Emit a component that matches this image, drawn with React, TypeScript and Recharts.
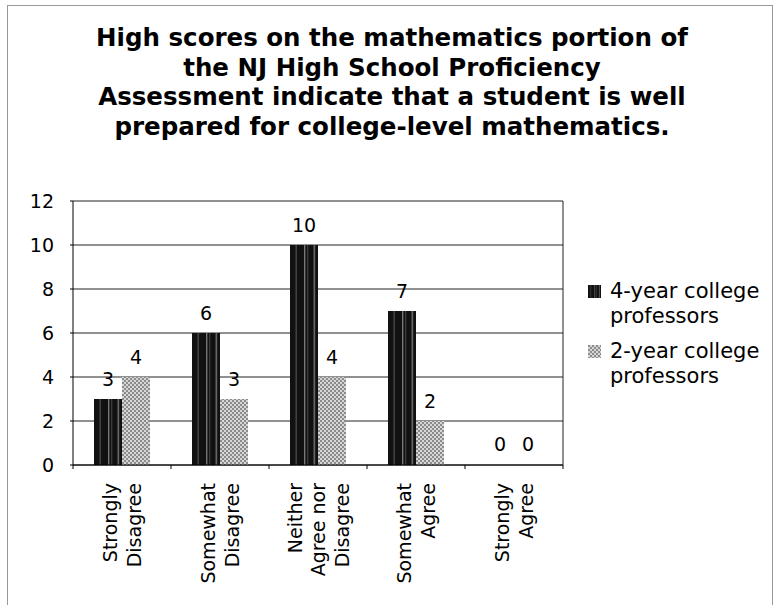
import React from 'react';
import { BarChart, Bar, XAxis, YAxis, CartesianGrid, LabelList, Legend, Cell } from 'recharts';

const FONT = "Verdana, 'DejaVu Sans', sans-serif";

const titleLines = [
  'High scores on the mathematics portion of',
  'the NJ High School Proficiency',
  'Assessment indicate that a student is well',
  'prepared for college-level mathematics.',
];
const categories = [
  'Strongly Disagree',
  'Somewhat Disagree',
  'Neither Agree nor Disagree',
  'Somewhat Agree',
  'Strongly Agree',
];
const categoryLines = [
  ['Strongly', 'Disagree'],
  ['Somewhat', 'Disagree'],
  ['Neither', 'Agree nor', 'Disagree'],
  ['Somewhat', 'Agree'],
  ['Strongly', 'Agree'],
];
const fourYear = [3, 6, 10, 7, 0];
const twoYear = [4, 3, 4, 2, 0];
const yTicks = [0, 2, 4, 6, 8, 10, 12];
const seriesNames = ['4-year college professors', '2-year college professors'];
const legendLines = [
  ['4-year college', 'professors'],
  ['2-year college', 'professors'],
];
const seriesFills = ['url(#pat4)', 'url(#pat2)'];

const data = categories.map((c, i) => ({
  name: c,
  four: fourYear[i],
  two: twoYear[i],
}));

const CatTick = (props: any) => {
  const { x, y, payload, index, visibleTicksCount } = props;
  const lines = categoryLines[index] ?? [String(payload.value)];
  const half = payload && payload.offset ? payload.offset : 49;
  const lh = 23.5;
  const n = lines.length;
  const isLast = index === (visibleTicksCount ?? categories.length) - 1;
  return (
    <g>
      <line x1={x - half} x2={x - half} y1={y} y2={y + 4} stroke="#000" />
      {isLast && <line x1={x + half} x2={x + half} y1={y} y2={y + 4} stroke="#000" />}
      <text
        transform={`translate(${x},${y + 18}) rotate(-90)`}
        textAnchor="end"
        fontFamily={FONT}
        fontSize={19}
        fill="#000"
      >
        {lines.map((l, i) => (
          <tspan key={i} x={0} y={(i - (n - 1) / 2) * lh + 7}>
            {l}
          </tspan>
        ))}
      </text>
    </g>
  );
};

const LegendContent = () => (
  <div style={{ fontFamily: FONT, fontSize: 21, lineHeight: '25px', color: '#000' }}>
    {seriesNames.map((s, i) => (
      <div key={s} style={{ display: 'flex', alignItems: 'flex-start', marginBottom: 10 }}>
        <svg width={13} height={13} style={{ marginTop: 6, marginRight: 9, flex: 'none' }}>
          <rect x={0} y={0} width={13} height={13} fill={seriesFills[i]} />
        </svg>
        <div>
          {legendLines[i].map((l) => (
            <div key={l} style={{ whiteSpace: 'nowrap' }}>{l}</div>
          ))}
        </div>
      </div>
    ))}
  </div>
);

export default function App() {
  return (
    <div
      style={{
        position: 'fixed',
        left: 0,
        top: 0,
        width: 778,
        height: 605,
        overflow: 'hidden',
        background: '#fff',
      }}
    >
      <svg width={0} height={0} style={{ position: 'absolute' }}>
        <defs>
          <pattern id="pat4" patternUnits="objectBoundingBox" patternContentUnits="objectBoundingBox" width={1} height={1}>
            <rect x={0} y={0} width={1} height={1} fill="#111" />
            <rect x={0.2} y={0} width={0.04} height={1} fill="#555" />
            <rect x={0.5} y={0} width={0.05} height={1} fill="#777" />
            <rect x={0.62} y={0} width={0.03} height={1} fill="#555" />
            <rect x={0.84} y={0} width={0.06} height={1} fill="#666" />
          </pattern>
          <pattern id="pat2" patternUnits="userSpaceOnUse" width={4} height={4}>
            <rect x={0} y={0} width={4} height={4} fill="#d6d6d6" />
            <rect x={0} y={0} width={2} height={2} fill="#8c8c8c" />
            <rect x={2} y={2} width={2} height={2} fill="#8c8c8c" />
          </pattern>
        </defs>
      </svg>
      <div
        style={{
          position: 'absolute',
          left: 7,
          top: 5,
          width: 764,
          height: 640,
          border: '1px solid #999',
        }}
      />
      <div
        style={{
          position: 'absolute',
          left: 0,
          top: 23,
          width: 784,
          textAlign: 'center',
          fontFamily: FONT,
          fontWeight: 'bold',
          fontSize: 24.5,
          lineHeight: '29.5px',
          color: '#000',
        }}
      >
        {titleLines.map((l) => (
          <div key={l}>{l}</div>
        ))}
      </div>
      <div style={{ position: 'absolute', left: 0, top: 0 }}>
        <BarChart
          width={778}
          height={605}
          data={data}
          margin={{ top: 201, right: 215, bottom: 10, left: 13 }}
          barGap={0}
          barSize={28}
        >
          <CartesianGrid
            horizontal={true}
            vertical={true}
            stroke="#222"
            strokeWidth={1}
            verticalCoordinatesGenerator={({ offset }: any) => [offset.left + offset.width]}
          />
          <XAxis
            dataKey="name"
            interval={0}
            height={130}
            tickLine={false}
            tickSize={0}
            tickMargin={0}
            axisLine={{ stroke: '#000' }}
            tick={<CatTick />}
          />
          <YAxis
            domain={[0, 12]}
            ticks={yTicks}
            width={60}
            interval={0}
            tickSize={3}
            tickMargin={16}
            axisLine={{ stroke: '#000' }}
            tickLine={{ stroke: '#000' }}
            tick={{ fontFamily: FONT, fontSize: 19, fill: '#000' }}
          />
          <Legend
            layout="horizontal"
            verticalAlign="middle"
            align="center"
            wrapperStyle={{ left: 588, top: 279, width: 190 }}
            content={<LegendContent />}
          />
          <Bar dataKey="four" name={seriesNames[0]} fill={seriesFills[0]} minPointSize={1} isAnimationActive={false}>
            {data.map((d, i) => (
              <Cell key={i} fill={d.four === 0 ? 'none' : seriesFills[0]} />
            ))}
            <LabelList dataKey="four" position="top" offset={13} fill="#000" fontSize={19} fontFamily={FONT} />
          </Bar>
          <Bar dataKey="two" name={seriesNames[1]} fill={seriesFills[1]} minPointSize={1} isAnimationActive={false}>
            {data.map((d, i) => (
              <Cell key={i} fill={d.two === 0 ? 'none' : seriesFills[1]} />
            ))}
            <LabelList dataKey="two" position="top" offset={13} fill="#000" fontSize={19} fontFamily={FONT} />
          </Bar>
        </BarChart>
      </div>
    </div>
  );
}
